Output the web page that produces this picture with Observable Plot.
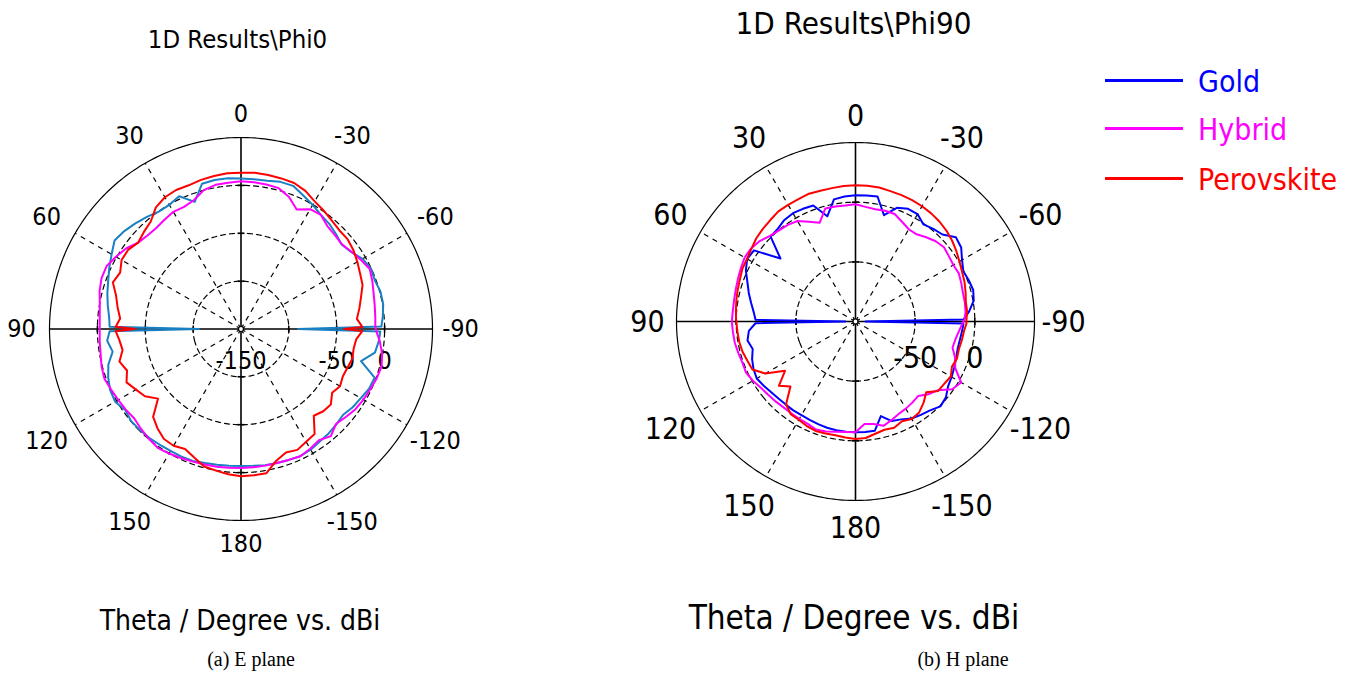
<!DOCTYPE html>
<html>
<head>
<meta charset="utf-8">
<script src="https://cdn.jsdelivr.net/npm/d3@7"></script>
<script src="https://cdn.jsdelivr.net/npm/@observablehq/plot@0.6"></script>
<style>
html, body { margin: 0; padding: 0; background: #fff; }
body { width: 1356px; height: 674px; overflow: hidden; position: relative;
  font-family: "DejaVu Sans Condensed", "Noto Sans", sans-serif; }
.abs { position: absolute; white-space: nowrap; line-height: 1; }
.ctr { transform: translate(-50%, -50%); }
.vc { transform: translateY(-50%); }
</style>
</head>
<body>
<script>
// ---------------- data ----------------
const thetaDeg = [-180,-175,-170,-165,-160,-155,-150,-145,-140,-135,-130,-125,-120,-115,-110,-105,-100,-95,-91,-90,-89,
  -85,-80,-75,-70,-65,-60,-55,-50,-45,-40,-35,-30,-25,-20,-15,-10,-5,0,5,10,15,20,25,30,35,40,45,50,55,60,65,70,75,80,85,
  89,90,91,95,100,105,110,115,120,125,130,135,140,145,150,155,160,165,170,175,180];

const seriesNames = ["Gold", "Hybrid", "Perovskite"];

// E plane (Phi0), dBi
const ePlaneGold = [-6.9,-6.6,-5.5,-5.2,-4.5,-3.4,-4.5,-6.6,-7.6,-9.2,-10.7,-7.6,-5.5,-2.4,-1.5,-20.2,-8.0,-5.5,-4.5,-90.3,-3.4,
  -1.3,0.8,0.8,-1.3,-0.3,-3.4,-9.7,-12.8,-9.7,-6.6,-4.5,-0.3,3.9,9.1,9.1,7.1,7.1,7.1,8.1,8.1,7.1,-8.7,2.9,-0.3,-0.3,2.9,6.0,9.1,11.2,6.0,1.8,-2.4,-5.5,-8.7,-11.8,
  -12.8,-106.0,-12.8,-9.7,-13.9,-6.6,-2.4,0.8,1.8,-2.4,-0.3,-0.7,-1.3,-2.4,-2.9,-2.9,-3.4,-5.0,-6.0,-6.6,-6.9];
const ePlaneHybrid = [-4.8,-5.0,-5.1,-5.2,-4.5,-3.4,-5.5,-8.1,-4.0,-9.7,-7.1,-4.0,-2.4,-1.0,0.8,2.0,-0.3,-4.5,-8.6,-9.2,-9.7,
  -9.2,-8.2,-6.6,-4.0,-1.6,-5.5,-9.2,-12.4,-11.3,-9.7,-4.5,-5.5,-12.3,-3.4,2.3,3.2,3.9,4.4,3.4,2.9,0.2,-6.6,-9.2,-8.7,-10.7,-12.3,-11.8,-9.7,-3.4,0.8,5.0,5.0,2.9,-0.3,-1.9,
  -2.4,-2.4,-2.4,-1.9,-1.1,0.8,1.8,-0.3,-1.9,-3.1,-4.5,-2.4,-0.3,1.5,0.2,-1.3,-2.6,-3.4,-4.0,-4.5,-4.8];
const ePlanePerovskite = [3.9,3.4,2.9,-7.6,-12.8,-10.7,-13.9,-16.0,-31.7,-28.5,-27.5,-33.8,-30.6,-32.7,-31.7,-29.6,-30.6,-29.1,-23.3,-42.2,-23.3,
  -28.5,-24.4,-20.2,-14.9,-12.8,-9.7,-6.6,-4.5,-4.5,-2.4,0.8,3.9,9.1,12.3,12.8,13.3,13.9,13.3,13.3,12.3,11.2,9.7,10.2,8.9,5.0,-3.4,-6.6,-9.7,-6.0,-6.0,-10.7,-7.6,-14.9,-19.1,-23.3,
  -19.1,-39.0,-19.1,-22.3,-24.4,-18.6,-23.3,-18.1,-23.3,-27.5,-36.9,-20.2,-14.4,-9.7,-9.2,-11.8,-7.1,-1.3,0.2,2.3,3.9];

// H plane (Phi90), dBi
const hPlaneGold = [-7.2,-7.0,-7.0,-17.9,-11.2,-9.5,-6.1,-4.5,-2.8,0.6,-1.1,-5.3,-7.0,-8.7,-10.3,-11.4,-11.2,-10.3,-9.5,-91.6,-9.5,
  -4.5,0.6,2.1,1.0,-0.3,3.1,8.1,9.8,3.1,1.4,-0.7,3.9,4.2,1.4,-7.8,6.4,6.0,5.8,5.2,3.9,-8.7,3.5,4.2,4.8,3.9,1.4,0.6,-17.9,3.9,4.8,1.4,-3.6,-7.4,-11.2,-14.5,
  -16.2,-91.6,-16.2,-10.3,-8.1,-10.8,-7.8,-5.7,-4.5,-6.1,-7.8,-8.7,-9.1,-9.1,-9.4,-9.1,-8.5,-7.8,-7.4,-7.2,-7.2];
const hPlaneHybrid = [-7.2,-13.7,-12.8,-9.5,-12.0,-14.5,-15.7,-17.0,-18.4,-13.7,-10.3,-1.1,2.2,-7.8,-11.2,-15.8,-14.9,-12.8,-10.3,-9.5,-8.7,
  -7.4,-7.0,-6.8,-5.7,-4.5,-5.3,-4.5,-3.2,-4.9,-7.8,-10.8,-10.7,-7.8,-4.1,-3.9,-4.5,-3.6,-1.7,-2.4,-2.1,-2.0,-12.0,-7.8,-2.8,-1.1,-0.3,1.4,4.8,6.8,7.3,6.0,4.8,3.9,3.3,3.2,
  3.5,3.5,3.5,3.1,2.7,1.7,0.9,1.2,-0.7,-3.2,-4.5,-5.3,-6.1,-6.1,-5.9,-5.3,-3.6,-4.5,-6.1,-7.0,-7.2];
const hPlanePerovskite = [-1.5,-2.0,-4.5,-6.1,-5.3,-7.8,-5.7,-7.0,-11.2,-16.2,-9.5,-9.1,-7.8,-10.8,-9.5,-10.3,-9.5,-8.7,-7.0,-7.0,-7.0,
  -6.1,-6.1,-4.5,-2.8,-1.5,0.6,3.1,5.6,7.7,9.4,10.6,11.5,12.3,12.7,13.1,14.0,14.2,14.2,14.0,13.5,13.5,14.0,13.1,12.9,12.7,11.0,9.8,8.5,6.4,5.0,4.6,3.1,2.2,1.4,0.6,
  0.1,-0.3,-0.3,-0.7,-1.1,-2.0,-3.6,-4.7,-12.8,-27.9,-16.2,-22.9,-9.5,-5.3,-4.9,-3.3,-2.4,-2.8,-3.2,-2.4,-1.5];

// axes / labels
const angleTicks = [0, 30, 60, 90, 120, 150, 180, -30, -60, -90, -120, -150];
const spokeAngles = [30, 60, 120, 150, -30, -60, -120, -150];
const axisAngles = [0, 90, 180, -90];
const ePlaneRange = [-150, 50];
const hPlaneRange = [-100, 50];
const ePlaneRings = [-100, -50, 0];
const hPlaneRings = [-50, 0];
const ePlaneRadialLabels = [-150, -50, 0];
const hPlaneRadialLabels = [-50, 0];
const plotTitles = ["1D Results\\Phi0", "1D Results\\Phi90"];
const axisTitle = "Theta / Degree vs. dBi";
const captions = ["(a) E plane", "(b) H plane"];
const ePlaneColors = ["#1a80c4", "#ff00ff", "#ff0000"];
const hPlaneColors = ["#0000ff", "#ff00ff", "#ff0000"];
const legendColors = ["#0000ff", "#ff00ff", "#ff0000"];

// ---------------- drawing ----------------
const FONT = '"DejaVu Sans Condensed", "Noto Sans", sans-serif';
const OUTER = 60; // colatitude of the outer circle in projection space

function polarPlot(cfg) {
  const {values, colors, range, rings, radialLabels, radiusPx, margin, fontSize,
    labelBase, labelHalfW, labelHalfH, labelDy, radialLabelDy} = cfg;
  const [rMin, rMax] = range;
  const colat = v => (v - rMin) / (rMax - rMin) * OUTER;
  const lat = v => 90 - colat(v);
  const lon = t => 180 + t;
  const rad = a => a * Math.PI / 180;
  // label box sits just outside the outer circle
  const labelLat = a => 90 - OUTER * (labelBase + labelHalfW * Math.abs(Math.sin(rad(a))) +
    labelHalfH * Math.abs(Math.cos(rad(a)))) / radiusPx;
  const circle = v => d3.geoCircle().center([0, 90]).radius(colat(v)).precision(1)();
  const rows = [];
  seriesNames.forEach((name, k) => thetaDeg.forEach((t, i) => rows.push({name, theta: t, value: values[k][i]})));
  const ticks = rings.flatMap(v => axisAngles.map(a => ({v, a})));
  const tickHalf = v => (3.5 / (colat(v) / OUTER * radiusPx)) * 180 / Math.PI;
  const size = 2 * (radiusPx + margin);
  return Plot.plot({
    width: size, height: size, margin,
    style: {overflow: "visible", background: "transparent", fontFamily: FONT},
    projection: {type: "azimuthal-equidistant", rotate: [0, -90], clip: false,
      domain: d3.geoCircle().center([0, 90]).radius(OUTER)()},
    color: {domain: seriesNames, range: colors},
    marks: [
      Plot.geo(rings, {geometry: circle, fill: "none", stroke: "#000", strokeWidth: 1.2, strokeDasharray: "5,4"}),
      Plot.link(spokeAngles, {x1: a => lon(a), y1: 90, x2: a => lon(a), y2: lat(rMax),
        stroke: "#000", strokeWidth: 1.2, strokeDasharray: "5,5"}),
      Plot.geo([rMax], {geometry: circle, fill: "none", stroke: "#000", strokeWidth: 1.2}),
      Plot.link(axisAngles, {x1: a => lon(a), y1: 90, x2: a => lon(a), y2: lat(rMax), stroke: "#000", strokeWidth: 1.6}),
      Plot.link(ticks, {x1: d => lon(d.a) - tickHalf(d.v), x2: d => lon(d.a) + tickHalf(d.v),
        y1: d => lat(d.v), y2: d => lat(d.v), stroke: "#000", strokeWidth: 1.6}),
      Plot.text(radialLabels, {x: lon(-90), y: v => lat(v), text: v => String(v), dy: radialLabelDy,
        fontSize, fill: "#000"}),
      Plot.line(rows, {x: d => lon(d.theta), y: d => lat(d.value), z: "name", stroke: "name",
        strokeWidth: 2, curve: "linear"}),
      Plot.dot([0], {x: 0, y: 90, r: 2.5, stroke: "#000", fill: "#fff", strokeWidth: 1.2}),
      Plot.text(angleTicks, {x: a => lon(a), y: labelLat, text: a => String(a), dy: labelDy, fontSize, fill: "#000"})
    ]
  });
}

function place(el, left, top) {
  el.style.position = "absolute";
  el.style.left = left + "px";
  el.style.top = top + "px";
  document.body.appendChild(el);
}
function label(text, x, y, size, opts = {}) {
  const d = document.createElement("div");
  d.className = "abs " + (opts.cls || "ctr");
  d.textContent = text;
  d.style.left = x + "px";
  d.style.top = y + "px";
  d.style.fontSize = size + "px";
  d.style.color = opts.color || "#000";
  if (opts.font) d.style.fontFamily = opts.font;
  document.body.appendChild(d);
}

// left: E plane
const eR = 191.5, eM = 60;
const eSvg = polarPlot({values: [ePlaneGold, ePlaneHybrid, ePlanePerovskite], colors: ePlaneColors,
  range: ePlaneRange, rings: ePlaneRings, radialLabels: ePlaneRadialLabels, radiusPx: eR, margin: eM,
  fontSize: 25, labelBase: 200, labelHalfW: 19.5, labelHalfH: 15, labelDy: 0, radialLabelDy: 32});
place(eSvg, 240 - (eR + eM), 328.3 - (eR + eM));

// right: H plane
const hR = 179, hM = 60;
const hSvg = polarPlot({values: [hPlaneGold, hPlaneHybrid, hPlanePerovskite], colors: hPlaneColors,
  range: hPlaneRange, rings: hPlaneRings, radialLabels: hPlaneRadialLabels, radiusPx: hR, margin: hM,
  fontSize: 30, labelBase: 190, labelHalfW: 18, labelHalfH: 16, labelDy: 1, radialLabelDy: 37});
place(hSvg, 855.3 - (hR + hM), 320.5 - (hR + hM));

// titles and captions
label(plotTitles[0], 237.5, 40, 25.5);
label(plotTitles[1], 853.5, 23, 31);
label(axisTitle, 240, 621, 28);
label(axisTitle, 854, 617, 33);
label(captions[0], 251, 659, 20, {font: '"Liberation Serif", "DejaVu Serif", serif'});
label(captions[1], 963, 659, 20, {font: '"Liberation Serif", "DejaVu Serif", serif'});

// legend
const legendY = [80, 128.3, 178.3];
seriesNames.forEach((name, i) => {
  const line = document.createElement("div");
  line.className = "abs";
  line.style.left = "1105px";
  line.style.top = (legendY[i] - 1.5) + "px";
  line.style.width = "78px";
  line.style.height = "3px";
  line.style.background = legendColors[i];
  document.body.appendChild(line);
  label(name, 1198, legendY[i] + 1.5, 30, {cls: "vc", color: legendColors[i]});
});
</script>
</body>
</html>
